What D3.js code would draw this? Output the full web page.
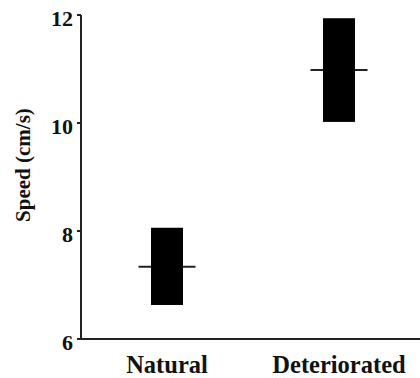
<!DOCTYPE html>
<html><head><meta charset="utf-8">
<script src="https://cdn.jsdelivr.net/npm/d3@7"></script>
<style>body{margin:0;background:#fff;} svg text{font-family:"Liberation Serif","Times New Roman",serif;font-weight:700;}</style>
</head><body>
<svg id="c" width="420" height="378"></svg>
<script>
const categories = ["Natural", "Deteriorated"];
const lowValues = [6.63, 10.02];
const highValues = [8.06, 11.94];
const medianValues = [7.34, 10.98];
const yTicks = [6, 8, 10, 12];

const svg = d3.select("#c");
const axisX = 81, yTop = 15, yBottom = 339;
const y = d3.scaleLinear().domain([6, 12]).range([yBottom, yTop]);
const x = d3.scalePoint().domain(categories).range([axisX, 425]).padding(0.5);
const boxW = 32, medW = 57;

// axes
svg.append("line").attr("x1", axisX).attr("x2", axisX).attr("y1", yTop).attr("y2", yBottom)
  .attr("stroke", "#222").attr("stroke-width", 2);
svg.append("line").attr("x1", axisX - 1).attr("x2", 420).attr("y1", yBottom).attr("y2", yBottom)
  .attr("stroke", "#222").attr("stroke-width", 2);
const tg = svg.append("g");
yTicks.forEach(t => {
  tg.append("line").attr("x1", axisX - 4).attr("x2", axisX).attr("y1", y(t)).attr("y2", y(t))
    .attr("stroke", "#222").attr("stroke-width", 2);
  tg.append("text").attr("x", axisX - 8).attr("y", y(t) + 3).attr("dy", "0.35em")
    .attr("fill", "#111").attr("text-anchor", "end").attr("font-size", 22).text(t);
});

// boxes
categories.forEach((c, i) => {
  const cx = x(c);
  svg.append("line").attr("x1", cx - medW / 2).attr("x2", cx + medW / 2)
    .attr("y1", y(medianValues[i])).attr("y2", y(medianValues[i]))
    .attr("stroke", "#222").attr("stroke-width", 2);
  svg.append("rect").attr("x", cx - boxW / 2).attr("width", boxW)
    .attr("y", y(highValues[i])).attr("height", y(lowValues[i]) - y(highValues[i]))
    .attr("fill", "#000");
  svg.append("text").attr("x", cx).attr("y", 373).attr("text-anchor", "middle")
    .attr("fill", "#111").attr("font-size", 24.5).text(c);
});

svg.append("text").attr("transform", `translate(30,165) rotate(-90)`)
  .attr("fill", "#111").attr("text-anchor", "middle").attr("font-size", 21).text("Speed (cm/s)");
</script>
</body></html>
